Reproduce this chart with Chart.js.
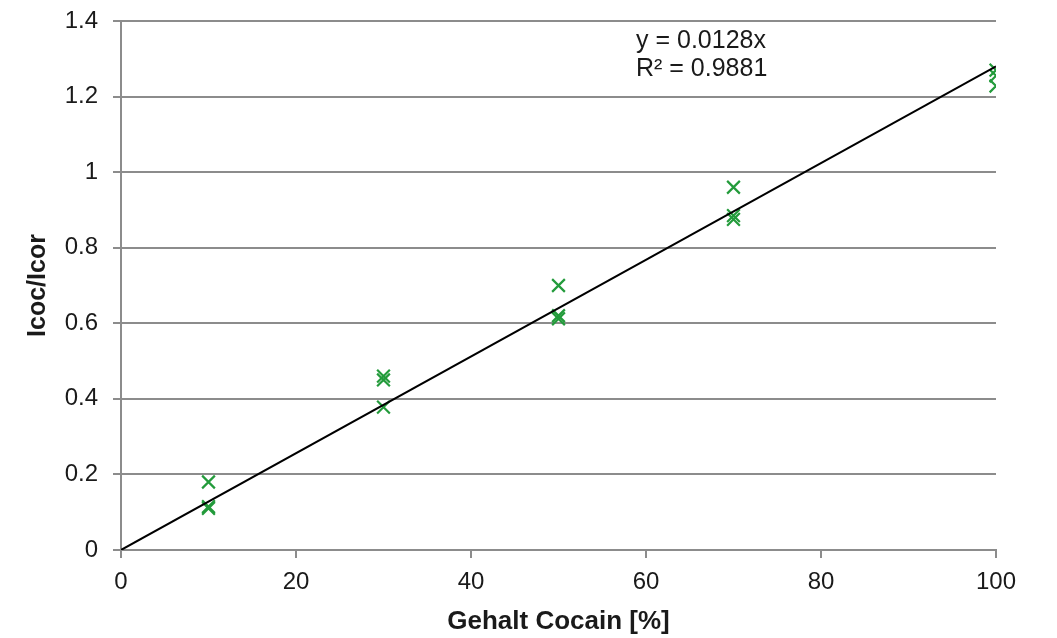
<!DOCTYPE html>
<html>
<head>
<meta charset="utf-8">
<script src="https://cdn.jsdelivr.net/npm/chart.js@4/dist/chart.umd.min.js"></script>
<style>
  html, body { margin: 0; padding: 0; background: #fff; }
  #wrap { width: 1057px; height: 638px; }
</style>
</head>
<body>
<div id="wrap"><canvas id="c" width="1057" height="638"></canvas></div>
<script>
// Cocaine content of the calibration samples [%] and measured intensity ratios
const gehalt = [10, 10, 10, 30, 30, 30, 50, 50, 50, 70, 70, 70, 100, 100, 100];
const ratio  = [0.18, 0.115, 0.11, 0.46, 0.45, 0.378, 0.70, 0.62, 0.612, 0.96, 0.885, 0.875, 1.27, 1.255, 1.228];

// Linear fit through the origin
const slope = 0.0128;
const rSquared = 0.9881;
const fitRange = [0, 100];

const xTicks = [0, 20, 40, 60, 80, 100];
const yTicks = [0, 0.2, 0.4, 0.6, 0.8, 1, 1.2, 1.4];

const FONT = '"Liberation Sans", Arial, sans-serif';

const equationLabel = {
  id: 'equationLabel',
  afterDatasetsDraw(chart) {
    const ctx = chart.ctx;
    ctx.save();
    ctx.fillStyle = '#1a1a1a';
    ctx.font = '25px ' + FONT;
    ctx.textAlign = 'left';
    ctx.textBaseline = 'middle';
    ctx.fillText('y = ' + slope + 'x', 636, 41);
    ctx.fillText('R\u00B2 = ' + rSquared, 636, 69);
    ctx.restore();
  }
};

new Chart(document.getElementById('c'), {
  type: 'scatter',
  data: {
    datasets: [
      {
        label: 'Messwerte',
        data: gehalt.map((g, i) => ({ x: g, y: ratio[i] })),
        pointStyle: 'crossRot',
        pointRadius: 9,
        pointHoverRadius: 9,
        pointBorderWidth: 2.2,
        borderColor: '#239b3b',
        backgroundColor: '#239b3b',
        order: 2
      },
      {
        label: 'Linear',
        type: 'line',
        data: fitRange.map(x => ({ x: x, y: slope * x })),
        showLine: true,
        borderColor: '#000',
        borderWidth: 2,
        pointRadius: 0,
        fill: false,
        order: 1
      }
    ]
  },
  options: {
    responsive: false,
    animation: false,
    layout: { padding: { top: 21, right: 61, left: 0, bottom: 0 } },
    plugins: {
      legend: { display: false },
      tooltip: { enabled: false }
    },
    scales: {
      x: {
        type: 'linear',
        min: 0,
        max: 100,
        afterBuildTicks(scale) { scale.ticks = xTicks.map(v => ({ value: v })); },
        afterFit(scale) { scale.height = 88; },
        grid: { display: true, drawOnChartArea: false, drawTicks: true, tickLength: 8, color: '#8c8c8c', lineWidth: 2 },
        border: { display: true, color: '#8c8c8c', width: 2 },
        ticks: { color: '#1a1a1a', font: { family: FONT, size: 24 }, padding: 10, maxRotation: 0 },
        title: { display: true, text: 'Gehalt Cocain [%]', color: '#1a1a1a', font: { family: FONT, size: 26, weight: 'bold' }, padding: { top: 0, bottom: 1 } }
      },
      y: {
        type: 'linear',
        min: 0,
        max: 1.4,
        afterBuildTicks(scale) { scale.ticks = yTicks.map(v => ({ value: v })); },
        afterFit(scale) {
          scale.width = 121;
          scale.paddingTop = 0;
          scale.paddingBottom = 0;
        },
        grid: { display: true, drawOnChartArea: true, drawTicks: true, tickLength: 8, color: '#8c8c8c', lineWidth: 2 },
        border: { display: true, color: '#8c8c8c', width: 2 },
        ticks: { color: '#1a1a1a', font: { family: FONT, size: 24 }, padding: 15, callback: v => String(v) },
        title: { display: true, text: 'Icoc/Icor', color: '#1a1a1a', font: { family: FONT, size: 25, weight: 'bold' }, padding: { top: 23, bottom: 0 } }
      }
    }
  },
  plugins: [equationLabel]
});
</script>
</body>
</html>
